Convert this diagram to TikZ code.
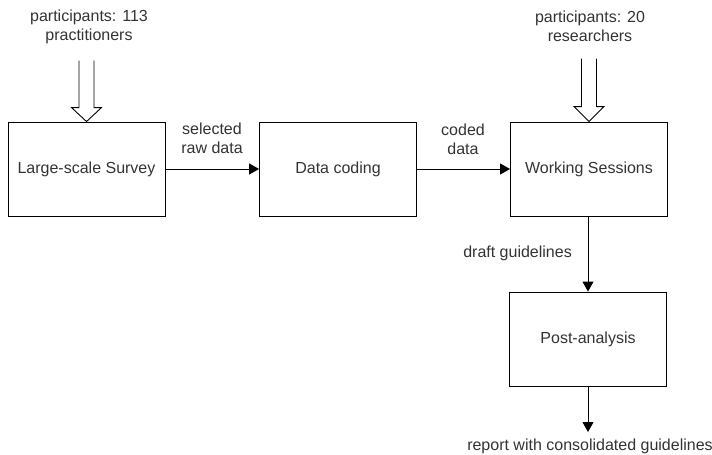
\documentclass[tikz,border=0pt]{standalone}
\usepackage{fontspec}
\setmainfont{Liberation Sans}
\usetikzlibrary{calc,arrows.meta}
\definecolor{txt}{HTML}{333333}
\tikzset{
  stage/.style={draw=black, line width=0.9pt, minimum width=157pt, minimum height=94pt, inner sep=0pt, text=txt, font=\fontsize{16}{19}\selectfont},
  lbl/.style={text=txt, align=center, inner sep=0pt, font=\fontsize{16}{19}\selectfont},
  flow/.style={draw=black, line width=0.9pt, -{Triangle[length=10pt,width=11pt]}},
  hollow/.style={draw=black, line width=0.9pt, fill=white}
}
\begin{document}
\begin{tikzpicture}[x=1pt,y=-1pt]
\useasboundingbox (0,0) rectangle (712,455);
\node[stage] (s1) at (86.5,169) {Large-scale Survey};
\node[stage] (s2) at (338,169) {Data coding};
\node[stage] (s3) at (589,169) {Working Sessions};
\node[stage] (s4) at (588,339) {Post-analysis};

\node[lbl] (p1) at (89,27) {participants: 113\\practitioners};
\node[lbl] (p2) at (590,26) {participants: 20\\researchers};
\node[lbl] (l1) at (212,138) {selected\\raw data};
\node[lbl] (l2) at (463,139) {coded\\data};
\node[lbl, anchor=east] (l3) at (572,253) {draft guidelines};
\node[lbl] (l4) at (590,446) {report with consolidated guidelines};
\coordinate (e4) at (588,432);

% hollow arrows
\draw[hollow] ($(s1.north)+(-7.5,-61)$) -- ($(s1.north)+(-7.5,-14)$) -- ($(s1.north)+(-15,-14)$) -- (s1.north) -- ($(s1.north)+(15,-14)$) -- ($(s1.north)+(7.5,-14)$) -- ($(s1.north)+(7.5,-61)$);
\draw[hollow] ($(s3.north)+(-7.5,-63)$) -- ($(s3.north)+(-7.5,-15)$) -- ($(s3.north)+(-15,-15)$) -- (s3.north) -- ($(s3.north)+(15,-15)$) -- ($(s3.north)+(7.5,-15)$) -- ($(s3.north)+(7.5,-63)$);

\draw[flow] (s1.east) -- (s2.west);
\draw[flow] (s2.east) -- (s3.west);
\draw[flow] (s3.south -| s4.north) -- (s4.north);
\draw[flow] (s4.south) -- (e4);
\end{tikzpicture}
\end{document}
